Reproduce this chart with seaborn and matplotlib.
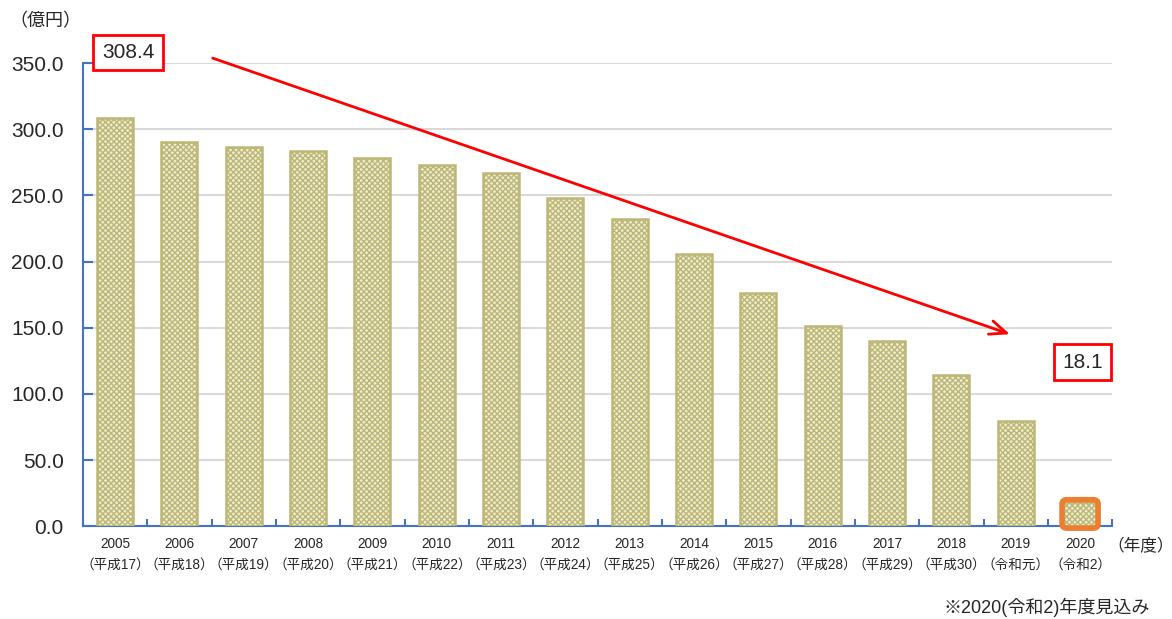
import matplotlib
matplotlib.use('Agg')
import matplotlib.pyplot as plt
import seaborn as sns
import pandas as pd
from matplotlib.patches import FancyBboxPatch

# データ
years = ['2005', '2006', '2007', '2008', '2009', '2010', '2011', '2012',
         '2013', '2014', '2015', '2016', '2017', '2018', '2019', '2020']
eras = ['平成17', '平成18', '平成19', '平成20', '平成21', '平成22', '平成23', '平成24',
        '平成25', '平成26', '平成27', '平成28', '平成29', '平成30', '令和元', '令和2']
values = [308.4, 290.3, 286.5, 283.5, 278.2, 272.9, 266.8, 247.9,
          232.1, 205.6, 176.1, 151.2, 139.8, 114.1, 79.4, 18.1]
yticks = [0, 50, 100, 150, 200, 250, 300, 350]

sns.set_style("white")
plt.rcParams['font.family'] = ['Liberation Sans', 'Noto Sans CJK JP', 'DejaVu Sans']
plt.rcParams['hatch.linewidth'] = 1.0

df = pd.DataFrame({'year': years, 'value': values})

fig = plt.figure(figsize=(11.72, 6.19), dpi=100)
ax = fig.add_axes([0.0708, 0.150, 0.8782, 0.748])

olive = '#BDB776'
sns.barplot(data=df, x='year', y='value', color='white', width=0.56,
            edgecolor=olive, linewidth=1.8, ax=ax, zorder=3)
for p in ax.patches:
    p.set_hatch('xxxxxx')
    p.set_facecolor('#EDEBD2')
    p.set_edgecolor(olive)

ax.set_xlim(-0.5, len(years) - 0.5)
ax.set_ylim(0, 350)
ax.set_yticks(yticks)
ax.set_yticklabels([f'{v:.1f}' for v in yticks], fontsize=15)
ax.yaxis.grid(True, color='#D9D9D9', linewidth=1.5, zorder=0)
ax.set_axisbelow(True)

ax.set_xticks(range(len(years)))
ax.set_xticklabels([f'{y}\n（{e}）' for y, e in zip(years, eras)], fontsize=9.8, linespacing=1.55)
ax.set_xlabel('')
ax.set_ylabel('')

for s in ['top', 'right']:
    ax.spines[s].set_visible(False)
for s in ['left', 'bottom']:
    ax.spines[s].set_color('#4472C4')
    ax.spines[s].set_linewidth(1.5)
ax.tick_params(axis='y', direction='in', length=7, color='#4472C4', width=1.5, pad=14, left=True)
ax.tick_params(axis='x', length=0, pad=8)
# カテゴリ境界の目盛り
ax.set_xticks([i + 0.5 for i in range(-1, len(years))], minor=True)
ax.tick_params(axis='x', which='minor', direction='in', length=5, color='#4472C4', width=1.5, bottom=True)

# 単位
fig.text(0.008, 0.965, '（億円）', fontsize=13, ha='left', va='center')
fig.text(0.945, 0.118, '（年度）', fontsize=12, ha='left', va='center')
fig.text(0.981, 0.018, '※2020(令和2)年度見込み', fontsize=13, ha='right', va='center')

# 矢印
ax.annotate('', xy=(13.95, 144.4), xytext=(1.475, 354.5),
            arrowprops=dict(arrowstyle='->,head_length=1.2,head_width=0.5', color='#FF0000', lw=2),
            annotation_clip=False)

# 値ボックス
box = dict(boxstyle='square,pad=0.4', facecolor='white', edgecolor='#FF0000', linewidth=2)
ax.text(0.2, 358, f'{values[0]}', fontsize=15, ha='center', va='center', bbox=box, clip_on=False)
ax.text(15.04, 124, f'{values[-1]}', fontsize=15, ha='center', va='center', bbox=box)

# 2020年度の強調
ax.add_patch(FancyBboxPatch((14.72, -1.5), 0.56, 21.5, boxstyle='round,pad=0,rounding_size=0.08',
                            facecolor='none', edgecolor='#ED7D31', linewidth=4, zorder=5,
                            clip_on=False, mutation_aspect=40))

plt.savefig('out.png', dpi=100)
